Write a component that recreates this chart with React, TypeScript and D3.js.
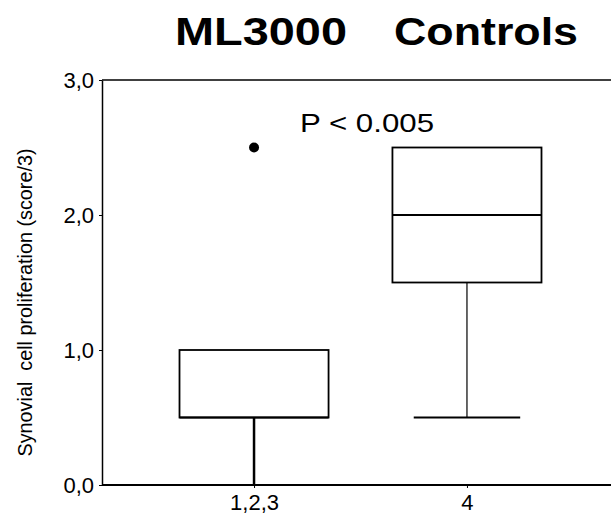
import React, { useEffect, useRef } from 'react';
import * as d3 from 'd3';

// Box plot data (score/3)
const categories = ['1,2,3', '4'];
const whiskerLow = [0, 0.5];
const q1 = [0.5, 1.5];
const median = [0.5, 2.0];
const q3 = [1.0, 2.5];
const whiskerHigh = [1.0, 2.5];
const outliers = [[2.5], []];
const yTicks = [0, 1, 2, 3];

const width = 611;
const height = 515;

const App: React.FC = () => {
  const svgRef = useRef<SVGSVGElement>(null);

  useEffect(() => {
    if (!svgRef.current) return;
    const svg = d3.select(svgRef.current);
    svg.selectAll('*').remove();

    const font = '"Liberation Sans", Arial, Helvetica, sans-serif';
    const left = 102;
    const top = 80;
    const bottom = 485;

    const x = d3.scalePoint<string>()
      .domain(categories)
      .range([left, 619])
      .padding(0.714);
    const step = x.step();

    const y = d3.scaleLinear().domain([0, 3]).range([bottom, top]);

    // Title
    const title = svg.append('g').attr('font-family', font).attr('font-weight', 'bold').attr('fill', '#000');
    title.append('text')
      .attr('x', 175).attr('y', 45)
      .attr('font-size', 38)
      .attr('textLength', 172)
      .attr('lengthAdjust', 'spacingAndGlyphs')
      .text('ML3000');
    title.append('text')
      .attr('x', 394).attr('y', 45)
      .attr('font-size', 38)
      .attr('textLength', 184)
      .attr('lengthAdjust', 'spacingAndGlyphs')
      .text('Controls');

    // Frame
    const frame = svg.append('g').attr('stroke', '#000').attr('fill', 'none');
    frame.append('line').attr('x1', left).attr('x2', width).attr('y1', top).attr('y2', top).attr('stroke-width', 1.5);
    frame.append('line').attr('x1', left).attr('x2', width).attr('y1', bottom).attr('y2', bottom).attr('stroke-width', 2);

    // Y axis
    const yAxis = svg.append('g')
      .attr('transform', `translate(${left},0)`)
      .call(d3.axisLeft(y).tickValues(yTicks).tickSize(3).tickSizeOuter(0).tickFormat(d => d3.format('.1f')(d as number).replace('.', ',')));
    yAxis.select('.domain').attr('stroke', '#000').attr('stroke-width', 1.5);
    yAxis.selectAll('.tick line').attr('stroke', '#000');
    yAxis.selectAll('.tick text')
      .attr('font-family', font)
      .attr('font-size', 22)
      .attr('fill', '#000')
      .attr('x', -8)
      .attr('dy', '0.35em');

    // X labels
    const xAxis = svg.append('g')
      .attr('transform', `translate(0,${bottom})`)
      .call(d3.axisBottom(x).tickSize(3).tickSizeOuter(0));
    xAxis.select('.domain').remove();
    xAxis.selectAll('.tick line').attr('stroke', '#000');
    xAxis.selectAll('.tick text')
      .attr('font-family', font)
      .attr('font-size', 22)
      .attr('fill', '#000')
      .attr('y', 9)
      .attr('dy', '0.71em');

    // Y title
    svg.append('text')
      .attr('transform', `translate(32,${(148 + 457) / 2}) rotate(-90)`)
      .attr('text-anchor', 'middle')
      .attr('font-family', font)
      .attr('font-size', 21)
      .attr('fill', '#000')
      .attr('textLength', 308)
      .attr('lengthAdjust', 'spacingAndGlyphs')
      .style('white-space', 'pre')
      .text('Synovial  cell proliferation (score/3)');

    // Boxes
    const boxW = step * 0.7;
    const capW = step * 0.5;
    categories.forEach((c, i) => {
      const cx = x(c)!;
      const g = svg.append('g').attr('stroke', '#000').attr('fill', 'none');
      // lower whisker
      g.append('line')
        .attr('x1', cx).attr('x2', cx)
        .attr('y1', y(q1[i])).attr('y2', y(whiskerLow[i]))
        .attr('stroke-width', i === 0 ? 2.5 : 1.2);
      if (whiskerLow[i] > 0) {
        g.append('line')
          .attr('x1', cx - capW / 2).attr('x2', cx + capW / 2)
          .attr('y1', y(whiskerLow[i])).attr('y2', y(whiskerLow[i]))
          .attr('stroke-width', 2);
      }
      if (whiskerHigh[i] > q3[i]) {
        g.append('line')
          .attr('x1', cx).attr('x2', cx)
          .attr('y1', y(q3[i])).attr('y2', y(whiskerHigh[i]))
          .attr('stroke-width', 1.2);
      }
      g.append('rect')
        .attr('x', cx - boxW / 2)
        .attr('y', y(q3[i]))
        .attr('width', boxW)
        .attr('height', y(q1[i]) - y(q3[i]))
        .attr('fill', '#fff')
        .attr('stroke-width', 1.8);
      g.append('line')
        .attr('x1', cx - boxW / 2).attr('x2', cx + boxW / 2)
        .attr('y1', y(median[i])).attr('y2', y(median[i]))
        .attr('stroke-width', 2.2);
      outliers[i].forEach(v => {
        svg.append('circle')
          .attr('cx', cx).attr('cy', y(v)).attr('r', 5)
          .attr('fill', '#000');
      });
    });

    // P value
    svg.append('text')
      .attr('x', 300).attr('y', 132)
      .attr('font-family', font)
      .attr('font-size', 25)
      .attr('fill', '#000')
      .attr('textLength', 134)
      .attr('lengthAdjust', 'spacingAndGlyphs')
      .text('P < 0.005');
  }, []);

  return (
    <svg
      ref={svgRef}
      width={width}
      height={height}
      style={{ position: 'absolute', left: 0, top: 0, background: '#fff' }}
    />
  );
};

export default App;
